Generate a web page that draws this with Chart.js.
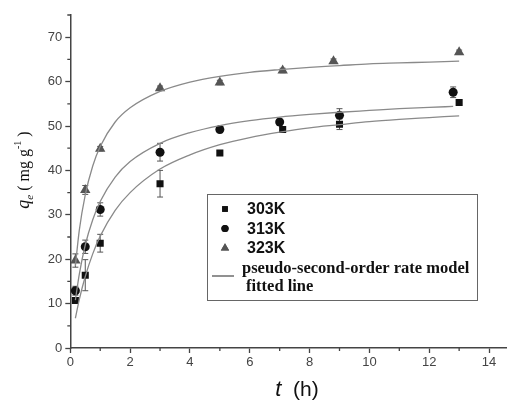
<!DOCTYPE html>
<html>
<head>
<meta charset="utf-8">
<script src="https://cdn.jsdelivr.net/npm/chart.js@4/dist/chart.umd.min.js"></script>
<style>
  body { margin: 0; background: #fff; }
  #wrap { width: 507px; height: 402px; }
</style>
</head>
<body>
<div id="wrap"><canvas id="c" width="507" height="402"></canvas></div>
<script>
// measured points (t in h, qt in mg/g)
const t303 = [0.17, 0.5, 1, 3, 5, 7.1, 9, 13];
const q303 = [10.7, 16.4, 23.6, 37.0, 43.9, 49.2, 50.4, 55.3];
const e303 = [0, 3.5, 2.0, 3.0, 0.5, 0.5, 1.2, 0];

const t313 = [0.17, 0.5, 1, 3, 5, 7, 9, 12.8];
const q313 = [12.9, 22.8, 31.2, 44.1, 49.2, 50.9, 52.4, 57.6];
const e313 = [1.0, 1.5, 1.5, 2.0, 0.7, 0.5, 1.5, 1.2];

const t323 = [0.17, 0.5, 1, 3, 5, 7.1, 8.8, 13];
const q323 = [19.7, 35.6, 44.9, 58.5, 59.8, 62.5, 64.6, 66.6];
const e323 = [1.5, 1.0, 0.5, 0.5, 0.5, 0.5, 0.5, 0.5];

// fitted lines
const fitT = [0.17, 0.3, 0.5, 0.75, 1, 1.5, 2, 3, 4, 5, 6, 7, 8, 9, 10, 11, 12, 13];
const fitT313 = [0.17, 0.3, 0.5, 0.75, 1, 1.5, 2, 3, 4, 5, 6, 7, 8, 9, 10, 11, 12, 12.8];
const fit303 = [6.7, 10.9, 16.1, 21.2, 25.2, 31.0, 35.0, 40.3, 43.5, 45.8, 47.4, 48.6, 49.6, 50.3, 51.0, 51.5, 51.9, 52.3];
const fit313 = [10.8, 16.6, 23.2, 28.9, 33.0, 38.5, 42.0, 46.1, 48.5, 50.1, 51.2, 52.0, 52.6, 53.1, 53.5, 53.9, 54.2, 54.4];
const fit323 = [18.5, 26.5, 34.5, 41.0, 45.4, 50.9, 54.1, 57.8, 59.9, 61.2, 62.1, 62.7, 63.2, 63.6, 64.0, 64.2, 64.4, 64.6];

const xTicks = [0, 2, 4, 6, 8, 10, 12, 14];
const yTicks = [0, 10, 20, 30, 40, 50, 60, 70];

const xy = (xs, ys) => xs.map((x, i) => ({ x: x, y: ys[i] }));
const curveColor = '#8a8a8a';

function fitLine(xs, ys) {
  return {
    type: 'line', data: xy(xs, ys), showLine: true, pointRadius: 0,
    borderColor: curveColor, borderWidth: 1.3, cubicInterpolationMode: 'monotone', fill: false
  };
}

// error bars under the markers
const errorBars = {
  id: 'errorBars',
  beforeDatasetsDraw(chart) {
    const ctx = chart.ctx, xs = chart.scales.x, ys = chart.scales.y;
    ctx.save();
    ctx.strokeStyle = '#555';
    ctx.lineWidth = 1;
    chart.data.datasets.forEach(ds => {
      if (!ds.err) return;
      ds.data.forEach((p, i) => {
        const e = ds.err[i];
        if (!e) return;
        const px = xs.getPixelForValue(p.x);
        const y1 = ys.getPixelForValue(p.y - e), y2 = ys.getPixelForValue(p.y + e);
        ctx.beginPath();
        ctx.moveTo(px, y1); ctx.lineTo(px, y2);
        ctx.moveTo(px - 3, y1); ctx.lineTo(px + 3, y1);
        ctx.moveTo(px - 3, y2); ctx.lineTo(px + 3, y2);
        ctx.stroke();
      });
    });
    ctx.restore();
  }
};

// minor ticks, axis titles and the boxed legend
const extras = {
  id: 'extras',
  afterDraw(chart) {
    const ctx = chart.ctx, xs = chart.scales.x, ys = chart.scales.y;
    const x0 = xs.getPixelForValue(0), y0 = ys.getPixelForValue(0);
    ctx.save();
    ctx.strokeStyle = '#444';
    ctx.lineWidth = 1.3;
    ctx.beginPath();
    for (let v = 1; v <= 13; v += 2) {
      const px = xs.getPixelForValue(v);
      ctx.moveTo(px, y0); ctx.lineTo(px, y0 + 3);
    }
    for (let v = 5; v <= 75; v += 10) {
      const py = ys.getPixelForValue(v);
      ctx.moveTo(x0, py); ctx.lineTo(x0 - 3, py);
    }
    ctx.stroke();

    // x title
    ctx.fillStyle = '#111';
    ctx.textBaseline = 'alphabetic';
    ctx.font = 'italic 22px "Liberation Sans", Arial, sans-serif';
    const wT = ctx.measureText('t').width;
    ctx.font = '21px "Liberation Sans", Arial, sans-serif';
    const wH = ctx.measureText('  (h)').width;
    let sx = 297 - (wT + wH) / 2;
    ctx.font = 'italic 22px "Liberation Sans", Arial, sans-serif';
    ctx.fillText('t', sx, 396);
    ctx.font = '21px "Liberation Sans", Arial, sans-serif';
    ctx.fillText('  (h)', sx + wT, 396);

    // y title, rotated
    ctx.translate(29, 170);
    ctx.rotate(-Math.PI / 2);
    const parts = [
      { s: 'q', f: 'italic 18px "Liberation Serif", serif', dy: 0 },
      { s: 'e', f: 'italic 11px "Liberation Serif", serif', dy: 4 },
      { s: ' ( mg g', f: '16px "Liberation Serif", serif', dy: 0 },
      { s: '-1', f: '10px "Liberation Serif", serif', dy: -8 },
      { s: ' )', f: '16px "Liberation Serif", serif', dy: 0 }
    ];
    let tw = 0;
    parts.forEach(p => { ctx.font = p.f; p.w = ctx.measureText(p.s).width; tw += p.w; });
    let cx = -tw / 2;
    parts.forEach(p => { ctx.font = p.f; ctx.fillText(p.s, cx, p.dy); cx += p.w; });
    ctx.setTransform(1, 0, 0, 1, 0, 0);

    // legend box
    ctx.strokeStyle = '#666';
    ctx.lineWidth = 1;
    ctx.fillStyle = '#fff';
    ctx.fillRect(207.5, 194.5, 270, 106);
    ctx.strokeRect(207.5, 194.5, 270, 106);
    const pts = chart.data.datasets.filter(d => d.err);
    ctx.textBaseline = 'middle';
    pts.forEach((d, i) => {
      const ly = 209 + i * 19.5;
      ctx.fillStyle = d.backgroundColor;
      ctx.beginPath();
      Chart.helpers.drawPoint(ctx, { pointStyle: d.pointStyle, radius: d.pointRadius * 0.8, borderWidth: 0 }, 225, ly);
      ctx.fill();
      ctx.fillStyle = '#111';
      ctx.font = 'bold 16px "Liberation Sans", Arial, sans-serif';
      ctx.fillText(d.label, 247, ly + 1);
    });
    ctx.strokeStyle = '#555';
    ctx.lineWidth = 1.3;
    ctx.beginPath();
    ctx.moveTo(212, 276); ctx.lineTo(234, 276);
    ctx.stroke();
    ctx.fillStyle = '#111';
    ctx.font = 'bold 16.5px "Liberation Serif", serif';
    ctx.fillText('pseudo-second-order rate model', 242, 269);
    ctx.fillText('fitted line', 246, 287);
    ctx.restore();
  }
};

new Chart(document.getElementById('c'), {
  type: 'scatter',
  data: {
    datasets: [
      fitLine(fitT, fit303),
      fitLine(fitT313, fit313),
      fitLine(fitT, fit323),
      { label: '303K', data: xy(t303, q303), err: e303, pointStyle: 'rect', pointRadius: 5,
        backgroundColor: '#111', borderColor: '#111', borderWidth: 0 },
      { label: '313K', data: xy(t313, q313), err: e313, pointStyle: 'circle', pointRadius: 4.5,
        backgroundColor: '#111', borderColor: '#111', borderWidth: 0 },
      { label: '323K', data: xy(t323, q323), err: e323, pointStyle: 'triangle', pointRadius: 6,
        backgroundColor: '#555', borderColor: '#555', borderWidth: 0 }
    ]
  },
  options: {
    responsive: false,
    animation: false,
    layout: { autoPadding: false, padding: { left: 0, top: 15, right: 0, bottom: 0 } },
    plugins: { legend: { display: false }, tooltip: { enabled: false } },
    scales: {
      x: {
        type: 'linear', min: 0, max: 14.6,
        afterFit: s => { s.height = 54; s.paddingRight = 0; s.paddingLeft = 0; },
        afterBuildTicks: s => { s.ticks = xTicks.map(v => ({ value: v })); },
        border: { display: true, color: '#444', width: 1.5 },
        grid: { drawOnChartArea: false, tickLength: 5, tickColor: '#444', tickWidth: 1.3 },
        ticks: { color: '#444', padding: 2, maxRotation: 0, font: { family: '"Liberation Sans", Arial, sans-serif', size: 13 } }
      },
      y: {
        type: 'linear', min: 0, max: 75,
        afterFit: s => { s.width = 70.3; s.paddingTop = 0; s.paddingBottom = 0; },
        afterBuildTicks: s => { s.ticks = yTicks.map(v => ({ value: v })); },
        border: { display: true, color: '#444', width: 1.5 },
        grid: { drawOnChartArea: false, tickLength: 5, tickColor: '#444', tickWidth: 1.3 },
        ticks: { color: '#444', padding: 3, font: { family: '"Liberation Sans", Arial, sans-serif', size: 13 } }
      }
    }
  },
  plugins: [errorBars, extras]
});
</script>
</body>
</html>
